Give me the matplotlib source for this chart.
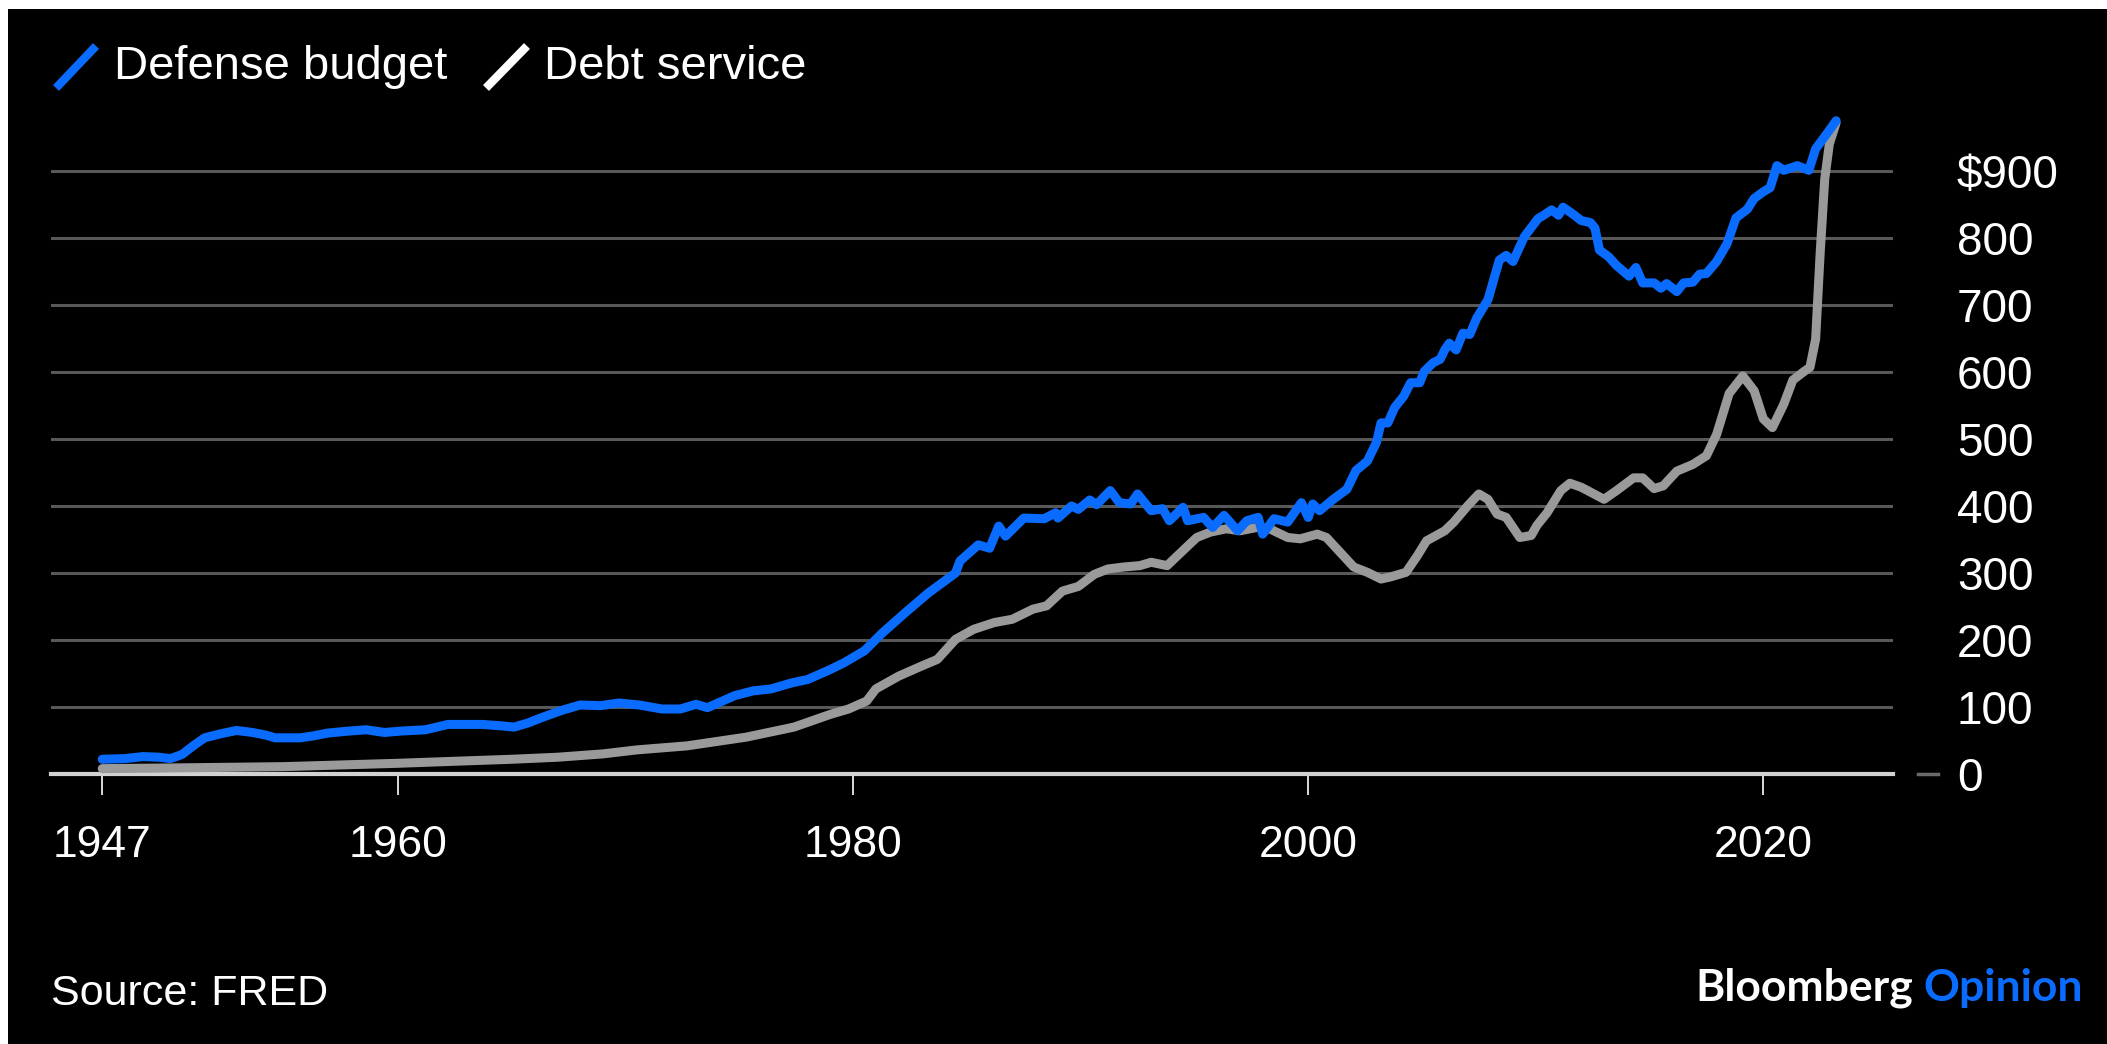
import matplotlib.pyplot as plt
from matplotlib.lines import Line2D
from matplotlib.patches import Rectangle
from matplotlib.ticker import FuncFormatter

# Defense budget, $ billions (quarterly, annualized)
defense_years = [
    1947.0, 1948.0, 1948.8, 1949.5, 1950.0, 1950.5, 1951.0, 1951.5, 1952.2, 1952.9,
    1953.6, 1954.2, 1954.6, 1955.7, 1956.3, 1956.9, 1957.8, 1958.6, 1959.4, 1960.1,
    1961.2, 1962.2, 1963.0, 1963.7, 1964.5, 1965.1, 1965.7, 1966.3, 1967.2, 1968.0,
    1968.9, 1969.7, 1970.6, 1971.6, 1972.4, 1973.1, 1973.6, 1974.8, 1975.6, 1976.4,
    1977.3, 1978.0, 1979.0, 1979.6, 1980.5, 1981.3, 1982.3, 1983.3, 1984.5, 1984.7,
    1985.5, 1986.0, 1986.4, 1986.7, 1987.5, 1988.4, 1988.9, 1989.0, 1989.6, 1989.9,
    1990.4, 1990.7, 1991.3, 1991.7, 1992.2, 1992.5, 1993.1, 1993.6, 1993.9, 1994.5,
    1994.7, 1995.4, 1995.8, 1996.3, 1996.9, 1997.3, 1997.8, 1998.0, 1998.5, 1999.1,
    1999.7, 2000.0, 2000.2, 2000.5, 2001.1, 2001.7, 2002.1, 2002.6, 2003.0, 2003.2,
    2003.5, 2003.8, 2004.2, 2004.5, 2004.9, 2005.1, 2005.5, 2005.8, 2006.0, 2006.2,
    2006.5, 2006.8, 2007.1, 2007.4, 2007.9, 2008.4, 2008.7, 2009.0, 2009.5, 2010.1,
    2010.35, 2010.7, 2011.0, 2011.2, 2011.7, 2012.0, 2012.4, 2012.6, 2012.8, 2013.2,
    2013.55, 2014.1, 2014.4, 2014.7, 2015.2, 2015.5, 2015.75, 2016.2, 2016.5, 2016.9,
    2017.2, 2017.5, 2017.95, 2018.4, 2018.8, 2019.3, 2019.6, 2020.0, 2020.3, 2020.6,
    2020.9, 2021.5, 2022.0, 2022.3, 2022.8, 2023.2,
]
defense_values = [
    22, 23, 26, 25, 23, 29, 42, 54, 60, 65,
    62, 58, 54, 54, 57, 61, 64, 66, 62, 64,
    66, 74, 74, 74, 72, 70, 76, 84, 95, 103,
    102, 106, 103, 97, 97, 104, 99, 117, 124, 127,
    136, 141, 156, 166, 184, 211, 241, 270, 300, 318,
    342, 337, 370, 355, 382, 381, 390, 382, 400, 395,
    409, 402, 423, 405, 403, 418, 393, 396, 378, 398,
    378, 383, 368, 386, 363, 378, 383, 358, 381, 376,
    405, 383, 403, 393, 410, 425, 453, 467, 495, 524,
    524, 547, 564, 584, 584, 601, 614, 619, 633, 643,
    633, 658, 656, 680, 708, 767, 774, 765, 802, 829,
    834, 842, 834, 846, 834, 826, 823, 815, 782, 772,
    759, 743, 756, 733, 733, 725, 732, 720, 733, 734,
    746, 747, 765, 791, 830, 843, 859, 869, 875, 908,
    901, 908, 901, 933, 956, 975,
]

# Federal interest payments, $ billions
debt_years = [
    1947.0, 1950.0, 1955.0, 1958.0, 1960.0, 1962.5, 1965.0, 1967.0, 1969.0, 1970.5,
    1972.7, 1975.3, 1977.4, 1979.0, 1979.8, 1980.6, 1981.0, 1982.0, 1983.0, 1983.7,
    1984.5, 1985.3, 1986.2, 1987.0, 1987.9, 1988.5, 1989.2, 1989.9, 1990.6, 1991.2,
    1991.9, 1992.6, 1993.1, 1993.8, 1994.2, 1995.1, 1995.7, 1996.4, 1997.0, 1997.75,
    1998.3, 1999.1, 1999.65, 2000.4, 2000.8, 2001.4, 2002.0, 2002.6, 2003.2, 2003.6,
    2004.3, 2004.8, 2005.2, 2006.0, 2006.4, 2007.0, 2007.5, 2007.9, 2008.3, 2008.7,
    2009.3, 2009.8, 2010.05, 2010.5, 2011.1, 2011.5, 2012.0, 2013.0, 2013.55, 2014.3,
    2014.7, 2015.2, 2015.6, 2016.2, 2016.9, 2017.5, 2017.95, 2018.5, 2019.1, 2019.6,
    2020.0, 2020.4, 2020.9, 2021.3, 2021.8, 2022.05, 2022.3, 2022.5, 2022.7, 2022.9,
    2023.2,
]
debt_values = [
    8, 9, 11, 14, 16, 19, 22, 25, 30, 36,
    42, 55, 70, 89, 97, 109, 127, 146, 161, 171,
    201, 216, 226, 231, 246, 251, 273, 280, 298, 306,
    309, 311, 316, 311, 324, 353, 361, 366, 363, 368,
    366, 353, 351, 358, 353, 331, 309, 301, 291, 294,
    301, 326, 348, 363, 376, 400, 418, 410, 388, 383,
    353, 356, 371, 390, 423, 434, 428, 410, 423, 442,
    442, 426, 430, 452, 462, 475, 507, 568, 594, 572,
    530, 517, 552, 588, 601, 607, 649, 778, 888, 940,
    972,
]

x_ticks = [1947, 1960, 1980, 2000, 2020]
y_ticks = [0, 100, 200, 300, 400, 500, 600, 700, 800, 900]

BLUE = "#0a6cff"
GREY = "#9a9a9a"
W, H = 2107, 1044

plt.rcParams["font.family"] = ["Liberation Sans", "DejaVu Sans"]

fig = plt.figure(figsize=(W / 100, H / 100), dpi=100, facecolor="black")

# white strip along the top and left edge
fig.patches.append(Rectangle((0, 1 - 9 / H), 1, 9 / H, transform=fig.transFigure,
                             facecolor="white", edgecolor="none"))
fig.patches.append(Rectangle((0, 0), 8 / W, 1, transform=fig.transFigure,
                             facecolor="white", edgecolor="none"))

ax = fig.add_axes([51 / W, 1 - 774 / H, (1893 - 51) / W, (774 - 104) / H])
ax.set_facecolor("black")
ax.set_xlim(1944.75, 2025.7)
ax.set_ylim(0, 1000)
for side in ax.spines.values():
    side.set_visible(False)

# gridlines, with a lighter baseline at zero
ax.set_yticks(y_ticks)
ax.yaxis.grid(True, color="#585858", linewidth=2.2, zorder=1)
ax.set_axisbelow(True)
ax.axhline(0, color="#d2d2d2", linewidth=3, zorder=2, clip_on=False)

ax.plot(debt_years, debt_values, color=GREY, linewidth=6.5, zorder=3,
        solid_capstyle="round", solid_joinstyle="round")
ax.plot(defense_years, defense_values, color=BLUE, linewidth=6.5, zorder=4,
        solid_capstyle="round", solid_joinstyle="round")

ax.set_xticks(x_ticks)
ax.set_xticklabels([str(y) for y in x_ticks])
ax.tick_params(axis="x", direction="out", length=15, width=1.2, color="white",
               pad=22, labelsize=32, labelcolor="white")

ax.yaxis.tick_right()
ax.yaxis.set_major_formatter(FuncFormatter(lambda v, p: "$900" if v == 900 else f"{v:.0f}"))
ax.tick_params(axis="y", length=0, pad=46, labelsize=33, labelcolor="white")

# small dash next to the zero label
fig.lines.append(Line2D([1918 / W, 1938 / W], [1 - 774 / H] * 2, transform=fig.transFigure,
                        color="#6a6a6a", linewidth=2.5))

# legend
fig.lines.append(Line2D([56 / W, 96 / W], [1 - 88 / H, 1 - 46 / H], transform=fig.transFigure,
                        color=BLUE, linewidth=6, solid_capstyle="butt"))
fig.text(114 / W, 1 - 67 / H, "Defense budget", color="white", fontsize=34, va="center")
fig.lines.append(Line2D([486 / W, 527 / W], [1 - 88 / H, 1 - 46 / H], transform=fig.transFigure,
                        color="white", linewidth=6, solid_capstyle="butt"))
fig.text(544 / W, 1 - 67 / H, "Debt service", color="white", fontsize=34, va="center")

fig.text(51 / W, 1 - 994 / H, "Source: FRED", color="white", fontsize=31, va="center")

# brand mark, bottom right
opinion = fig.text(2083 / W, 1 - 988 / H, "Opinion", color=BLUE, fontsize=32,
                   family="Lato", fontweight="bold", ha="right", va="center")
bb = opinion.get_window_extent(fig.canvas.get_renderer())
fig.text((bb.x0 - 10) / W, 1 - 988 / H, "Bloomberg", color="white", fontsize=32,
         family="Lato", fontweight="bold", ha="right", va="center")

fig.savefig("out.png", dpi=100, facecolor="black")
